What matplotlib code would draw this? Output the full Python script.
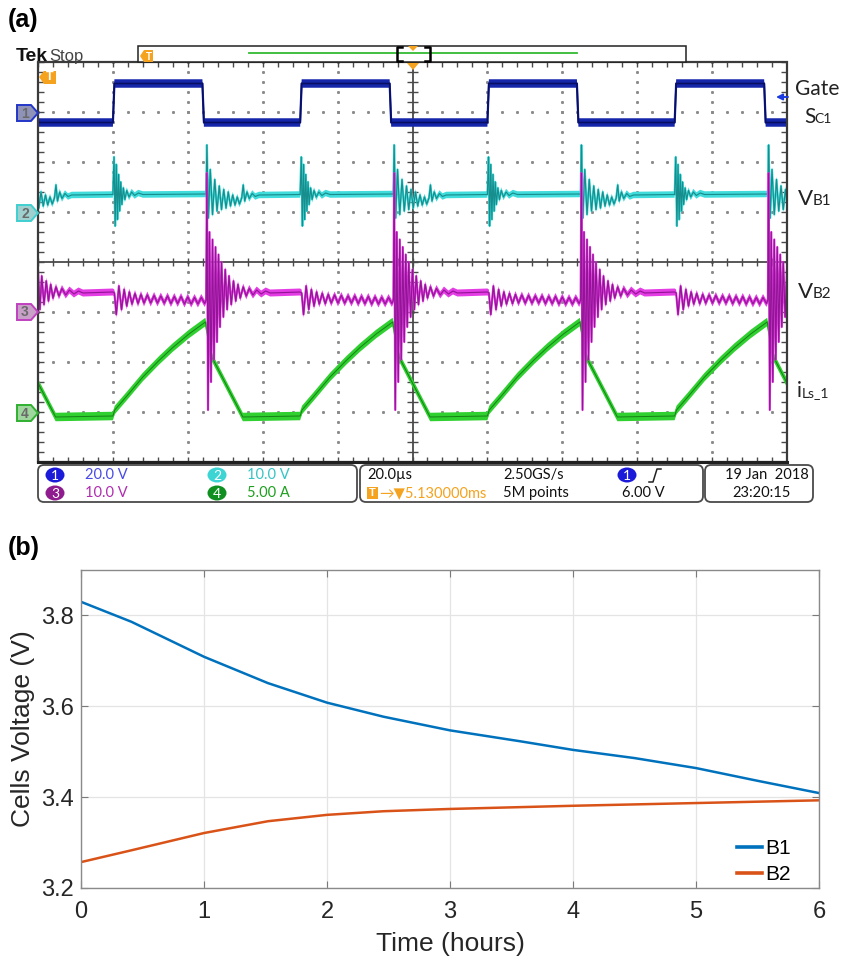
import matplotlib
matplotlib.use('Agg')
import matplotlib.pyplot as plt
import numpy as np
from matplotlib.patches import Rectangle, Polygon, FancyBboxPatch, Ellipse

plt.rcParams['font.family'] = ['Liberation Sans', 'DejaVu Sans']

# ------------------------------------------------------------------ data
# (a) oscilloscope capture: time in microseconds (20 us/div), amplitude in screen divisions
rise_us = [-30, 20, 70, 120, 170]          # gate rising edges seen on screen

gate_t = [0.0, 0.4, 23.9, 24.3, 50.0]
gate_v = [2.79, 3.57, 3.57, 2.79, 2.79]

vb1_t = [0.0, 0.3, 0.6, 0.9, 1.2, 1.5, 1.8, 2.1, 2.4, 2.8, 3.2, 3.7, 4.3, 5.0, 5.8, 6.8, 8.0,
         24.9, 25.1, 25.5, 26.0, 26.6, 27.2, 27.8, 28.4, 29.0, 29.6, 30.2, 30.8, 31.4, 32.0, 32.6,
         33.2, 33.8, 34.4, 34.8, 35.2, 35.8, 36.4, 37.2, 38.0, 39.0, 50.0]
vb1_v = [1.35, 2.10, 0.72, 1.95, 0.85, 1.75, 1.02, 1.60, 1.15, 1.48, 1.25, 1.43, 1.30, 1.40, 1.33, 1.38, 1.35,
         1.36, 2.34, 0.88, 1.85, 0.95, 1.65, 1.02, 1.52, 1.05, 1.45, 1.08, 1.40, 1.12, 1.34, 1.14,
         1.30, 1.16, 1.28, 1.54, 1.22, 1.40, 1.27, 1.37, 1.31, 1.34, 1.35]

vb2_t = [0.0, 0.4, 0.9, 1.6, 2.3, 3.0, 3.7, 4.4, 5.1, 5.9, 6.7, 7.5, 8.3, 9.2, 10.1, 11.0, 11.9, 12.8,
         13.7, 14.6, 15.5, 16.4, 17.3, 18.2, 19.1, 20.0, 20.9, 21.8, 22.7, 23.6, 24.5, 24.9,
         25.1, 25.4, 25.8, 26.2, 26.6, 27.0, 27.4, 27.8, 28.2, 28.6, 29.0, 29.5, 30.0, 30.5, 31.0,
         31.6, 32.2, 32.8, 33.4, 34.0, 34.8, 35.6, 36.4, 37.4, 38.4, 39.6, 40.8, 42.0, 50.0]
vb2_v = [-0.60, -0.62, -1.05, -0.48, -0.95, -0.55, -0.88, -0.60, -0.84, -0.63, -0.83, -0.65, -0.82, -0.66,
         -0.82, -0.67, -0.82, -0.68, -0.82, -0.68, -0.83, -0.69, -0.83, -0.69, -0.84, -0.70, -0.84, -0.71,
         -0.84, -0.71, -0.83, -0.76,
         1.78, -2.96, 0.60, -2.40, 0.45, -1.95, 0.30, -1.60, 0.15, -1.30, 0.00, -1.10, -0.15, -0.95, -0.28,
         -0.85, -0.38, -0.78, -0.45, -0.72, -0.50, -0.68, -0.53, -0.66, -0.56, -0.64, -0.58, -0.62, -0.60]

ils_t = [0.0, 0.5, 3.5, 8.0, 12.3, 16.0, 20.3, 24.7, 25.2, 26.4, 34.7, 50.0]
ils_v = [-3.08, -2.96, -2.70, -2.30, -1.97, -1.71, -1.44, -1.20, -1.40, -1.90, -3.10, -3.08]

ch_labels = ['1', '2', '3', '4']
ch_scales = ['20.0 V', '10.0 V', '10.0 V', '5.00 A']

# (b) cell voltages
hours = [0.0, 0.41, 1.0, 1.52, 2.0, 2.46, 3.0, 3.57, 4.0, 4.5, 5.0, 5.5, 6.0]
b1 = [3.830, 3.786, 3.709, 3.651, 3.608, 3.577, 3.547, 3.523, 3.504, 3.486, 3.464, 3.436, 3.409]
b2 = [3.257, 3.283, 3.321, 3.347, 3.361, 3.369, 3.374, 3.378, 3.381, 3.384, 3.387, 3.390, 3.393]
b_xticks = [0, 1, 2, 3, 4, 5, 6]
b_yticks = [3.2, 3.4, 3.6, 3.8]

# ------------------------------------------------------------------ figure
W, H = 858, 959
fig = plt.figure(figsize=(W / 100, H / 100), dpi=100)


def fx(x):
    return x / W


def fy(y):
    return 1 - y / H


# overlay axes in pixel coordinates for the scope decorations
ov = fig.add_axes([0, 0, 1, 1], zorder=10)
ov.set_xlim(0, W)
ov.set_ylim(H, 0)
ov.axis('off')
ov.patch.set_alpha(0)

# scope screen
sc = fig.add_axes([fx(38), fy(462), 749 / W, 400 / H], zorder=2)
sc.set_xlim(0, 200)
sc.set_ylim(-4, 4)
sc.axis('off')

grid_c = '#8a8a8a'
minor_x = np.arange(0, 200.01, 4)
minor_y = np.arange(-4, 4.001, 0.2)
for xm in np.arange(20, 200, 20):
    if xm == 100:
        continue
    sc.plot(np.full_like(minor_y, xm), minor_y, ls='none', marker='s', ms=1.1, color=grid_c, zorder=1)
for ym in range(-3, 4):
    if ym == 0:
        continue
    sc.plot(minor_x, np.full_like(minor_x, ym), ls='none', marker='s', ms=1.1, color=grid_c, zorder=1)
sc.axhline(0, color='#4a4a4a', lw=1.3, zorder=1)
sc.axvline(100, color='#4a4a4a', lw=1.3, zorder=1)
sc.vlines(minor_x, -0.08, 0.08, color='#4a4a4a', lw=1, zorder=1)
sc.hlines(minor_y, 100 - 1.6, 100 + 1.6, color='#4a4a4a', lw=1, zorder=1)
sc.vlines(minor_x, 3.9, 4, color='#4a4a4a', lw=1, zorder=1)
sc.vlines(minor_x, -4, -3.9, color='#4a4a4a', lw=1, zorder=1)
sc.hlines(minor_y, 0, 1.6, color='#4a4a4a', lw=1, zorder=1)
sc.hlines(minor_y, 198.4, 200, color='#4a4a4a', lw=1, zorder=1)
sc.add_patch(Rectangle((0, -4), 200, 8, fill=False, ec='#3a3a3a', lw=1.6, clip_on=False, zorder=6))
sc.plot([0, 200], [-4, -4], color='#202020', lw=2.2, clip_on=False, zorder=6)


def periodic(tt, vv):
    T = np.concatenate([np.asarray(tt) + r for r in rise_us])
    V = np.tile(np.asarray(vv), len(rise_us))
    return T, V


def trace(tt, vv, face, dark, half, lw_line, alpha_line, z):
    T, V = periodic(tt, vv)
    sc.fill_between(T, V - half, V + half, facecolor=face, edgecolor='none', lw=0, zorder=z)
    sc.plot(T, V, color=face, lw=1.6, zorder=z + 0.05)
    sc.plot(T, V, color=dark, lw=lw_line, zorder=z + 0.1, alpha=alpha_line)


trace(gate_t, gate_v, '#1626aa', '#070c5a', 0.085, 1.2, 0.9, 3)
trace(ils_t, ils_v, '#2fd02f', '#0c5e0c', 0.085, 0.7, 0.7, 3.2)
trace(vb1_t, vb1_v, '#40dcdc', '#0e7a7a', 0.065, 0.85, 0.8, 3.4)
trace(vb2_t, vb2_v, '#e43ce4', '#7e0c82', 0.07, 0.85, 0.8, 3.6)

# ---- header
ov.text(8, 20, '(a)', fontsize=18, fontweight='bold', va='center', ha='left')
ov.text(16, 61, 'Tek', fontsize=14, fontweight='bold', va='baseline', ha='left', color='#111111')
ov.text(49, 61, 'Stop', fontsize=12, va='baseline', ha='left', color='#444444')
ov.add_patch(Rectangle((138, 46), 548, 16, fc='white', ec='#222222', lw=1.1))
ov.plot([249, 577], [53, 53], color='#33bb33', lw=1.3)
ov.plot([402, 397, 397, 402], [47, 47, 61, 61], color='k', lw=1.8)
ov.plot([425, 430, 430, 425], [47, 47, 61, 61], color='k', lw=1.8)
orange = '#f5a21e'
ov.add_patch(Polygon([[408, 46], [418, 46], [413, 51]], fc=orange, ec='none'))
ov.add_patch(Polygon([[407, 63], [419, 63], [413, 70]], fc=orange, ec='none'))
ov.add_patch(Polygon([[140, 56], [144, 50], [153, 50], [153, 62], [144, 62]], fc=orange, ec='none'))
ov.text(148.5, 56.5, 'T', fontsize=7, color='white', fontweight='bold', ha='center', va='center')
ov.add_patch(Polygon([[39, 77], [44, 71], [56, 71], [56, 84], [44, 84]], fc=orange, ec='none'))
ov.text(50, 77.5, 'T', fontsize=9, color='white', fontweight='bold', ha='center', va='center')

# channel ground markers
mk_y = [113, 213, 312, 413]
mk_edge = ['#2436c8', '#3fcfcf', '#c040c0', '#30b030']
mk_face = ['#8f93b8', '#9fd0d0', '#c8a0c8', '#9ed69e']
for lab, y0, ec, fc in zip(ch_labels, mk_y, mk_edge, mk_face):
    ov.add_patch(Polygon([[17, y0 - 8], [31, y0 - 8], [38, y0], [31, y0 + 8], [17, y0 + 8]],
                         fc=fc, ec=ec, lw=1.4))
    ov.text(25, y0 + 0.5, lab, fontsize=10, color='#6a6a6a', ha='center', va='center', fontweight='bold')

# right-side signal names
lab_font = ['Lato', 'DejaVu Sans']
tc = '#222222'
ov.text(795, 89, 'Gate', fontsize=15, family=lab_font, va='center', ha='left', color=tc)
ov.text(804, 123, 'S', fontsize=15, family=lab_font, va='baseline', ha='left', color=tc)
ov.text(814, 123, 'C1', fontsize=10, family=lab_font, va='baseline', ha='left', color=tc)
ov.text(798, 205, 'V', fontsize=16, family=lab_font, va='baseline', ha='left', color=tc)
ov.text(813, 205, 'B1', fontsize=11, family=lab_font, va='baseline', ha='left', color=tc)
ov.text(798, 298, 'V', fontsize=16, family=lab_font, va='baseline', ha='left', color=tc)
ov.text(813, 298, 'B2', fontsize=11, family=lab_font, va='baseline', ha='left', color=tc)
ov.text(797, 397, 'i', fontsize=15, family=lab_font, va='baseline', ha='left', color=tc)
ov.text(802, 397, 'Ls_1', fontsize=10, family=lab_font, va='baseline', ha='left', color=tc)
ov.annotate('', xy=(776, 97), xytext=(788, 97),
            arrowprops=dict(arrowstyle='-|>', color='#1a3ae0', lw=1.4, mutation_scale=9,
                            shrinkA=0, shrinkB=0))

# ---- status bar
nar = ['Lato', 'DejaVu Sans']
fs_bar = 10.5
for x0, w in [(38, 319), (360, 343), (705, 108)]:
    ov.add_patch(FancyBboxPatch((x0, 465), w, 37, boxstyle='round,pad=0,rounding_size=6',
                                fc='white', ec='#4a4a4a', lw=1.3))
badge_pos = [(55, 475), (217, 475), (55, 493), (217, 493)]
badge_col = ['#1a1ad8', '#3dd4d4', '#8e1c8e', '#0f8f1f']
text_col = ['#4a4ae8', '#35c4c4', '#b02cb0', '#1f9f1f']
for lab, (bx, by), bc, tcol, s in zip(ch_labels, badge_pos, badge_col, text_col, ch_scales):
    ov.add_patch(Ellipse((bx, by), 19, 15, fc=bc, ec='none'))
    ov.text(bx, by + 0.5, lab, fontsize=10, color='white', ha='center', va='center', family=nar)
    ov.text(bx + 30, by, s, fontsize=fs_bar, color=tcol, ha='left', va='center', family=nar)

ov.text(367, 475, '20.0µs', fontsize=fs_bar, color='#111111', ha='left', va='center', family=nar)
ov.text(503, 475, '2.50GS/s', fontsize=fs_bar, color='#111111', ha='left', va='center', family=nar)
ov.add_patch(Ellipse((627, 475), 19, 15, fc='#1a1ad8', ec='none'))
ov.text(627, 475.5, '1', fontsize=10, color='white', ha='center', va='center', family=nar)
ov.plot([649, 653, 657, 661], [482, 482, 469, 469], color='#222222', lw=1.1)
ov.add_patch(Rectangle((367, 487), 11, 12, fc=orange, ec='none'))
ov.text(372.5, 493.5, 'T', fontsize=8, color='white', fontweight='bold', ha='center', va='center')
ov.text(379, 493, '→▼5.130000ms', fontsize=fs_bar, color=orange, ha='left', va='center', family=nar)
ov.text(503, 493, '5M points', fontsize=fs_bar, color='#111111', ha='left', va='center', family=nar)
ov.text(622, 493, '6.00 V', fontsize=fs_bar, color='#111111', ha='left', va='center', family=nar)
ov.text(809, 475, '19 Jan  2018', fontsize=fs_bar, color='#111111', ha='right', va='center', family=nar)
ov.text(732, 493, '23:20:15', fontsize=fs_bar, color='#111111', ha='left', va='center', family=nar)

# ------------------------------------------------------------------ (b)
ov.text(8, 548, '(b)', fontsize=18, fontweight='bold', va='center', ha='left')

ax = fig.add_axes([fx(81), fy(888), (819 - 81) / W, (888 - 570) / H], zorder=3)
ax.plot(hours, b1, color='#0072BD', lw=1.8, label='B1')
ax.plot(hours, b2, color='#D95319', lw=1.8, label='B2')
ax.set_xlim(0, 6)
ax.set_ylim(3.2, 3.9)
ax.set_xticks(b_xticks)
ax.set_xticklabels([str(v) for v in b_xticks])
ax.set_yticks(b_yticks)
ax.set_yticklabels(['%.1f' % v for v in b_yticks])
ax.grid(True, color='#e4e4e4', lw=0.9)
ax.set_axisbelow(True)
ax.tick_params(direction='in', length=5, top=True, right=True, labelsize=17,
               color='#7a7a7a', labelcolor='#262626')
ax.tick_params(axis='x', pad=9)
ax.tick_params(axis='y', pad=5)
for sp in ax.spines.values():
    sp.set_color('#8a8a8a')
    sp.set_linewidth(1.0)
ax.set_xlabel('Time (hours)', fontsize=19, color='#262626')
ax.set_ylabel('Cells Voltage (V)', fontsize=19, color='#262626')
ax.xaxis.set_label_coords(0.5, -0.138)
ax.yaxis.set_label_coords(-0.062, 0.5)
leg = ax.legend(loc='lower right', bbox_to_anchor=(0.962, 0.012), frameon=False, fontsize=15,
                handlelength=1.2, handletextpad=0.15, labelspacing=0.35, borderpad=0, borderaxespad=0)
for ln in leg.get_lines():
    ln.set_linewidth(2.6)

fig.savefig('out.png', dpi=100)
